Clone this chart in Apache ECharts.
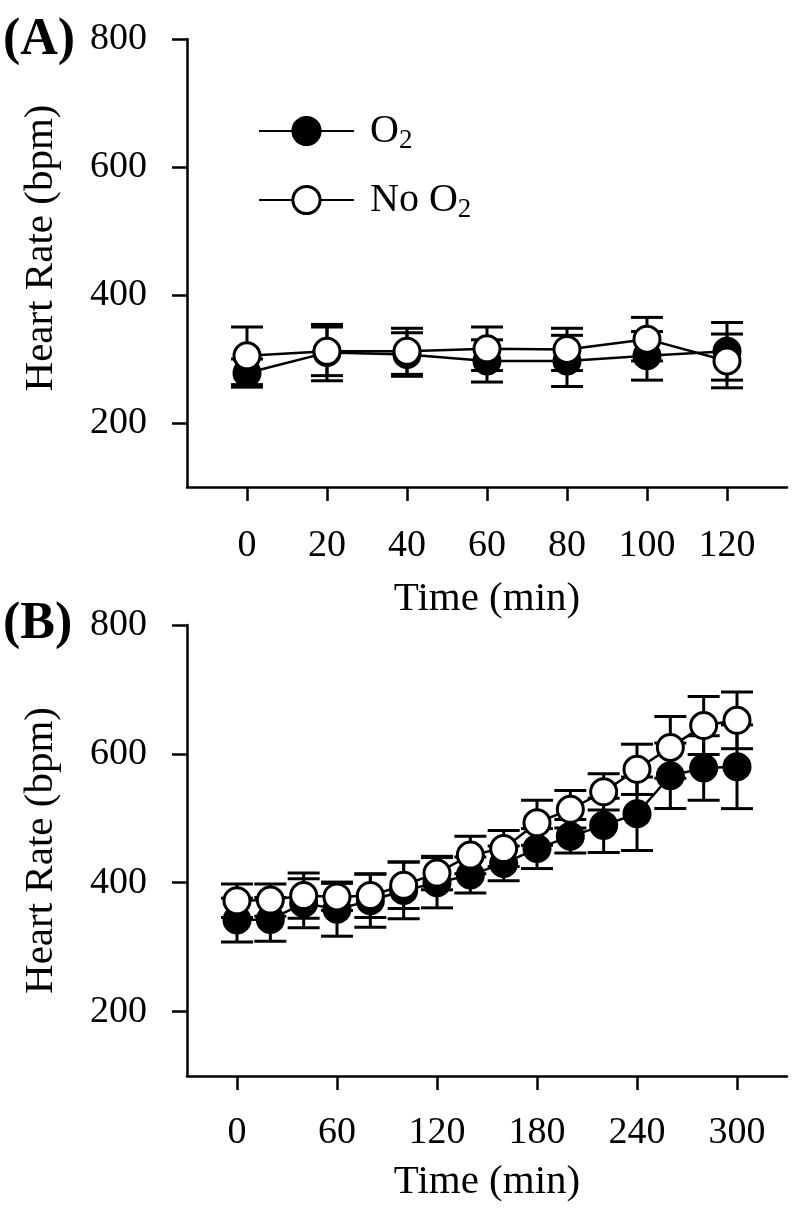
<!DOCTYPE html>
<html>
<head>
<meta charset="utf-8">
<script src="https://cdn.jsdelivr.net/npm/echarts@6/dist/echarts.min.js"></script>
<style>
  html, body { margin: 0; padding: 0; background: #fff; }
  #chart { width: 792px; height: 1217px; }
</style>
</head>
<body>
<div id="chart"></div>
<script>
// panel A: 0-120 min
const timesA = [0, 20, 40, 60, 80, 100, 120]
const o2A = [278, 310, 307, 297, 297, 305, 312]
const o2ErrA = [22, 44, 34, 33, 40, 38, 45]
const noO2A = [305, 312, 312, 316, 315, 331, 297]
const noO2ErrA = [45, 38, 36, 34, 33, 34, 42]
const xTicksA = [0, 20, 40, 60, 80, 100, 120]

// panel B: 0-300 min
const timesB = [0, 20, 40, 60, 80, 100, 120, 140, 160, 180, 200, 220, 240, 260, 280, 300]
const o2B = [342, 343, 368, 359, 372, 388, 400, 412, 430, 453, 472, 489, 507, 566, 578, 580]
const o2ErrB = [34, 34, 38, 42, 41, 44, 39, 28, 27, 31, 26, 42, 57, 51, 50, 65]
const noO2B = [372, 373, 380, 378, 380, 396, 415, 443, 453, 493, 514, 541, 576, 610, 644, 652]
const noO2ErrB = [26, 25, 35, 21, 34, 36, 26, 29, 28, 35, 29, 28, 39, 48, 45, 44]
const xTicksB = [0, 60, 120, 180, 240, 300]

const yTicks = [200, 400, 600, 800]

const FONT = "'Liberation Serif', 'Times New Roman', serif"
const LW = 2.5
const BAR_LW = 3
const CAP = 32

const chart = echarts.init(document.getElementById('chart'))

const axisText = { fontFamily: FONT, fontSize: 38, color: '#000' }

function xAxis(idx, min, max, ticks, gap, labelMargin) {
  return {
    type: 'value', gridIndex: idx, min: min, max: max,
    axisLine: { show: true, onZero: false, lineStyle: { color: '#000', width: LW } },
    axisTick: { show: true, length: 14, customValues: ticks, lineStyle: { color: '#000', width: LW } },
    axisLabel: Object.assign({ customValues: ticks, margin: labelMargin }, axisText),
    splitLine: { show: false },
    name: 'Time (min)', nameLocation: 'middle', nameGap: gap,
    nameTextStyle: { fontFamily: FONT, fontSize: 41, color: '#000' }
  }
}

function yAxis(idx, shift) {
  return {
    type: 'value', gridIndex: idx, min: 100, max: 800,
    axisLine: { show: true, onZero: false, lineStyle: { color: '#000', width: LW } },
    axisTick: { show: true, length: 15, customValues: yTicks, lineStyle: { color: '#000', width: LW } },
    axisLabel: Object.assign({ customValues: yTicks, margin: 40 }, axisText),
    splitLine: { show: false },
    name: 'Heart Rate (bpm)', nameLocation: 'middle', nameGap: 125, nameRotate: 90,
    nameTextStyle: { fontFamily: FONT, fontSize: 41, color: '#000', padding: [0, 0, 0, shift] }
  }
}

// error bars drawn with caps through the axis scales
function errorBars(idx, times, vals, errs) {
  return {
    type: 'custom', xAxisIndex: idx, yAxisIndex: idx, z: 1, silent: true,
    encode: { x: 0, y: [1, 2] },
    data: times.map((t, i) => [t, vals[i] - errs[i], vals[i] + errs[i]]),
    renderItem: function (params, api) {
      const lo = api.coord([api.value(0), api.value(1)])
      const hi = api.coord([api.value(0), api.value(2)])
      const w = CAP / 2
      const style = { stroke: '#000', lineWidth: BAR_LW, fill: null }
      return {
        type: 'group',
        children: [
          { type: 'line', shape: { x1: lo[0], y1: lo[1], x2: hi[0], y2: hi[1] }, style: style },
          { type: 'line', shape: { x1: lo[0] - w, y1: lo[1], x2: lo[0] + w, y2: lo[1] }, style: style },
          { type: 'line', shape: { x1: hi[0] - w, y1: hi[1], x2: hi[0] + w, y2: hi[1] }, style: style }
        ]
      }
    }
  }
}

function lineSeries(idx, name, times, vals, filled, z) {
  return {
    type: 'line', name: name, xAxisIndex: idx, yAxisIndex: idx, z: z,
    data: times.map((t, i) => [t, vals[i]]),
    symbol: 'circle', symbolSize: 26,
    itemStyle: { color: filled ? '#000' : '#fff', borderColor: '#000', borderWidth: 3, opacity: 1 },
    lineStyle: { color: '#000', width: LW },
    emphasis: { disabled: true }
  }
}

const titleText = { fontFamily: FONT, fontSize: 52, fontWeight: 'bold', color: '#000' }

const option = {
  animation: false,
  backgroundColor: '#fff',
  title: [
    { text: '(A)', left: -2, top: 10, textStyle: titleText },
    { text: '(B)', left: -2, top: 594, textStyle: titleText }
  ],
  legend: {
    orient: 'vertical', left: 253, top: 106, itemWidth: 95, itemHeight: 34, itemGap: 26,
    data: [
      { name: 'O2', itemStyle: { color: '#000', borderColor: '#000', borderWidth: 3 } },
      { name: 'No O2', itemStyle: { color: '#fff', borderColor: '#000', borderWidth: 3 } }
    ],
    formatter: function (name) {
      return name === 'O2' ? '{o|O}{s|2}' : '{o|No O}{s|2}'
    },
    textStyle: {
      fontFamily: FONT, fontSize: 40, color: '#000',
      rich: {
        o: { fontFamily: FONT, fontSize: 40, lineHeight: 34, padding: [0, 0, 0, 11], color: '#000' },
        s: { fontFamily: FONT, fontSize: 27, lineHeight: 12, verticalAlign: 'top', padding: [13, 0, 0, 0], color: '#000' }
      }
    },
    selectedMode: false
  },
  grid: [
    { left: 187, top: 39, width: 600, height: 448, outerBoundsMode: 'none' },
    { left: 187, top: 625, width: 600, height: 451, outerBoundsMode: 'none' }
  ],
  xAxis: [xAxis(0, -15, 135, xTicksA, 92, 40), xAxis(1, -30, 330, xTicksB, 86, 38)],
  yAxis: [yAxis(0, 30), yAxis(1, 0)],
  series: [
    errorBars(0, timesA, o2A, o2ErrA),
    errorBars(0, timesA, noO2A, noO2ErrA),
    lineSeries(0, 'O2', timesA, o2A, true, 2),
    lineSeries(0, 'No O2', timesA, noO2A, false, 3),
    errorBars(1, timesB, o2B, o2ErrB),
    errorBars(1, timesB, noO2B, noO2ErrB),
    lineSeries(1, 'O2', timesB, o2B, true, 2),
    lineSeries(1, 'No O2', timesB, noO2B, false, 3)
  ]
}

chart.setOption(option)
</script>
</body>
</html>
